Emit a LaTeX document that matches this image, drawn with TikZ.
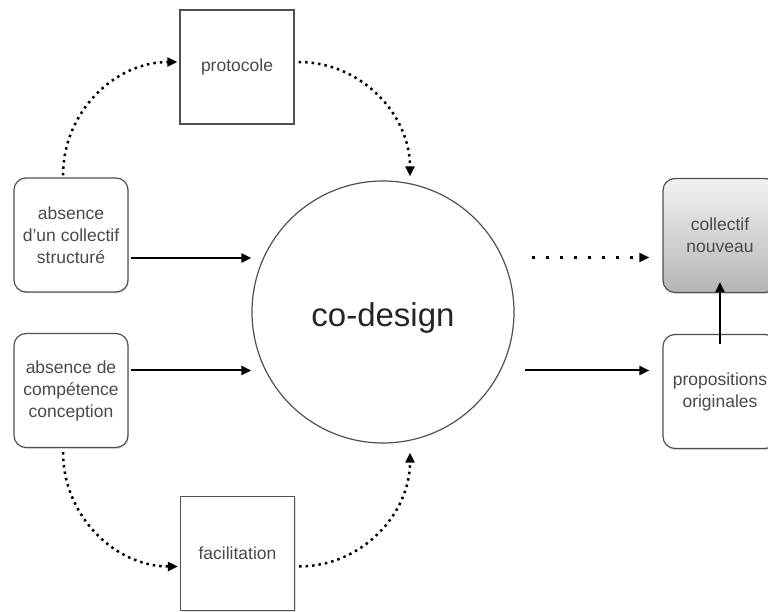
\documentclass[tikz,border=0pt]{standalone}
\usepackage{fontspec}
\setmainfont{Liberation Sans}
\usetikzlibrary{arrows.meta,shadows}
\definecolor{boxline}{HTML}{505050}
\definecolor{boxtext}{HTML}{4A4A4A}

\begin{document}
\begin{tikzpicture}[x=1pt, y=1pt,
    main/.style = {draw=boxline, line width=1.2pt, fill=white, minimum width=114pt, minimum height=114pt,
                   align=center, text=boxtext, font=\fontsize{17.5}{22}\selectfont,
                   drop shadow={shadow xshift=1pt, shadow yshift=-1.5pt, opacity=0.25}},
    rnd/.style = {main, rounded corners=12pt},
    arr/.style = {line width=2pt, -{Triangle[length=10pt,width=9pt]}},
    dotarr/.style = {arr, line width=2.5pt, dash pattern=on 2.5pt off 4pt},
    sparse/.style = {arr, line width=2.5pt, dash pattern=on 2.5pt off 11.5pt}]
        \useasboundingbox (0,0) rectangle (768,612);
        \node[main] (proto) at (237,545)   {protocole};
        \node[main] (facil) at (237.5,58.5) {facilitation};
        \node[rnd]  (abs1)  at (71,377)    {absence\\d’un collectif\\structuré};
        \node[rnd]  (abs2)  at (71,221.5)  {absence de\\compétence\\conception};
        \node[draw=boxline, line width=1.2pt, circle, minimum size=262pt, font=\fontsize{33}{40}\selectfont,
              text height=30pt, text depth=0pt, text=black!85] (co) at (383,300) {co-design};
        \node[rnd, top color=gray!10, bottom color=gray!58] (coll) at (720,376.5) {collectif\\nouveau};
        \node[rnd]  (prop)  at (720,220.5) {propositions\\originales};
        \draw[arr] ([xshift=2pt,yshift=-23pt]abs1.east) -- ([yshift=-23pt]abs1.east -| co.west);
        \draw[arr] ([xshift=2pt,yshift=20pt]abs2.east) -- ([yshift=20pt]abs2.east -| co.west);
        \draw[dotarr] ([xshift=-8pt,yshift=2pt]abs1.north) to[out=90, in=180] ([xshift=-2pt,yshift=5pt]proto.west);
        \draw[dotarr] ([xshift=4pt,yshift=5pt]proto.east) to[out=0, in=90] ([xshift=27pt,yshift=4pt]co.north);
        \draw[dotarr] ([xshift=-8pt,yshift=-4pt]abs2.south) to[out=-90, in=180] ([xshift=-2pt,yshift=-13pt]facil.west);
        \draw[dotarr] ([xshift=4pt,yshift=-13pt]facil.east) to[out=0, in=-90] ([xshift=27pt,yshift=-9pt]co.south);
        \draw[sparse] ([xshift=-130pt,yshift=-22pt]coll.west) -- ([xshift=-13pt,yshift=-22pt]coll.west);
        \draw[arr] ([xshift=-137pt,yshift=21pt]prop.west) -- ([xshift=-13pt,yshift=21pt]prop.west);
        \draw[arr] ([yshift=-10pt]prop.north) -- ([yshift=11pt]coll.south);
\end{tikzpicture}
\end{document}
